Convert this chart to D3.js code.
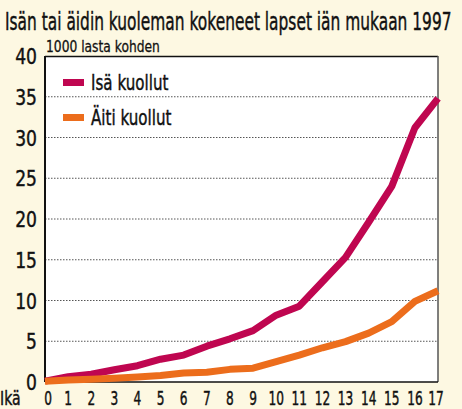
<!DOCTYPE html>
<html>
<head>
<meta charset="utf-8">
<script src="https://cdn.jsdelivr.net/npm/d3@7"></script>
<style>
  body { margin: 0; background: #fdf8e2; }
  svg { display: block; font-family: "DejaVu Sans", sans-serif; }
  text { fill: #111; stroke: #111; stroke-width: 0.45px; }
</style>
</head>
<body>
<svg width="462" height="409"></svg>
<script>
var ages = d3.range(0, 18);
var isa = [0.1, 0.65, 0.95, 1.5, 2.0, 2.8, 3.3, 4.4, 5.3, 6.3, 8.2, 9.3, 12.3, 15.3, 19.6, 24.0, 31.2, 34.8];
var aiti = [0.1, 0.25, 0.35, 0.45, 0.6, 0.8, 1.1, 1.2, 1.55, 1.7, 2.5, 3.3, 4.2, 4.95, 6.0, 7.4, 9.9, 11.2];
var yTicks = [0, 5, 10, 15, 20, 25, 30, 35, 40];
var seriesNames = ["Isä kuollut", "Äiti kuollut"];
var colors = ["#bf0650", "#ec6d1c"];

var svg = d3.select("svg"),
    pLeft = 45, pRight = 438, pTop = 56, pBottom = 382;

var x = d3.scaleLinear().domain([0, 17]).range([pLeft, pRight]);
var y = d3.scaleLinear().domain([0, 40]).range([pBottom, pTop]);

// narrow text helper (no condensed font available)
function at(px, py, sx) { return "translate(" + px + "," + py + ") scale(" + sx + ",1)"; }

// text squeezed to a given width
function fitText(str, px, py, size, w) {
    var t = svg.append("text").style("font-size", size + "px").text(str);
    var len = t.node().getComputedTextLength();
    t.attr("transform", at(px, py, w / len));
    return t;
}

fitText("Isän tai äidin kuoleman kokeneet lapset iän mukaan 1997", 5, 30, 24, 447);
fitText("1000 lasta kohden", 46, 52, 15, 114).style("stroke-width", "0.3px");

svg.append("rect")
    .attr("x", pLeft).attr("y", pTop)
    .attr("width", pRight - pLeft).attr("height", pBottom - pTop)
    .attr("fill", "#fff");

// grid
svg.append("g").selectAll("line")
    .data(yTicks.filter(function (d) { return d > 0 && d < 40; }))
    .enter().append("line")
    .attr("x1", pLeft).attr("x2", pRight)
    .attr("y1", function (d) { return y(d); })
    .attr("y2", function (d) { return y(d); })
    .attr("stroke", "#555")
    .attr("stroke-width", 1)
    .attr("stroke-dasharray", "1.5,1.5");

// frame
svg.append("line").attr("x1", pLeft).attr("x2", pRight).attr("y1", pTop + 0.5).attr("y2", pTop + 0.5)
    .attr("stroke", "#111").attr("stroke-width", 1.5);
svg.append("line").attr("x1", pRight).attr("x2", pRight).attr("y1", pTop).attr("y2", pBottom)
    .attr("stroke", "#555").attr("stroke-width", 1.5);
svg.append("line").attr("x1", pLeft).attr("x2", pLeft).attr("y1", pTop).attr("y2", pBottom)
    .attr("stroke", "#111").attr("stroke-width", 2);
svg.append("line").attr("x1", pLeft).attr("x2", pRight).attr("y1", pBottom).attr("y2", pBottom)
    .attr("stroke", "#111").attr("stroke-width", 1.5);

var line = d3.line()
    .x(function (d, i) { return x(ages[i]); })
    .y(function (d) { return y(d); });

[isa, aiti].forEach(function (s, k) {
    svg.append("path")
        .datum(s)
        .attr("d", line)
        .attr("fill", "none")
        .attr("stroke", colors[k])
        .attr("stroke-width", 7)
        .attr("stroke-linejoin", "round");
});

// y labels
svg.append("g").selectAll("text")
    .data(yTicks)
    .enter().append("text")
    .attr("transform", function (d) { return at(37, y(d) + 8, 0.78); })
    .attr("text-anchor", "end")
    .style("font-size", "22px")
    .text(function (d) { return d; });

// x labels
svg.append("g").selectAll("text")
    .data(ages)
    .enter().append("text")
    .attr("transform", function (d) { return at(x(d) + (d == 0 ? 3 : d == 17 ? -2 : 0), 405, 0.64); })
    .attr("text-anchor", "middle")
    .style("font-size", "19px")
    .text(function (d) { return d; });

svg.append("text")
    .attr("transform", at(0, 405, 0.74))
    .style("font-size", "19px")
    .text("Ikä");

// legend
var lg = svg.append("g").selectAll("g")
    .data(seriesNames)
    .enter().append("g")
    .attr("transform", function (d, i) { return "translate(63," + (82 + i * 35) + ")"; });
lg.append("rect")
    .attr("x", 0).attr("y", -3).attr("width", 21).attr("height", 7)
    .attr("fill", function (d, i) { return colors[i]; });
lg.append("text")
    .attr("transform", at(28, 8, 0.72))
    .style("font-size", "21px")
    .text(function (d) { return d; });
</script>
</body>
</html>
